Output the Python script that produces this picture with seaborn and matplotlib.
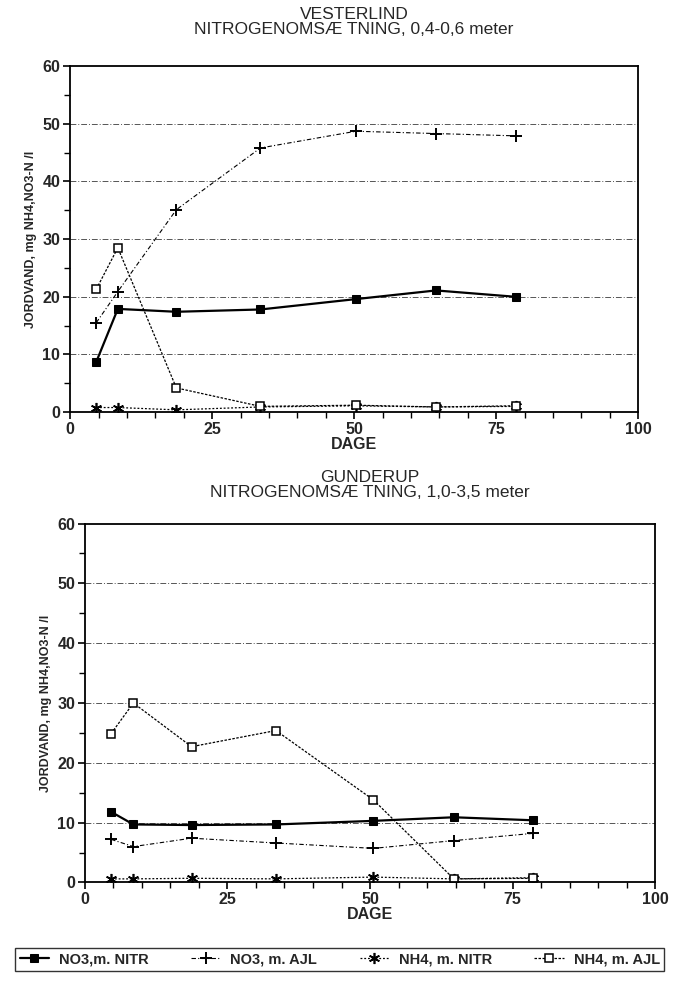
import matplotlib
matplotlib.use("Agg")
import matplotlib.pyplot as plt
from matplotlib.ticker import MultipleLocator
import seaborn as sns
import pandas as pd

sns.set_theme(style="white")
plt.rcParams["font.family"] = ["Liberation Sans", "DejaVu Sans"]

# Sampling days
days_vesterlind = [4.6, 8.4, 18.7, 33.5, 50.3, 64.4, 78.4]
days_gunderup = [4.6, 8.5, 18.7, 33.5, 50.6, 64.7, 78.5]

# VESTERLIND, 0,4-0,6 m (mg N/l)
vest_no3_nitr = [8.7, 17.9, 17.4, 17.8, 19.6, 21.1, 20.0]
vest_no3_ajl = [15.5, 20.9, 35.1, 45.8, 48.7, 48.3, 47.9]
vest_nh4_nitr = [0.8, 0.8, 0.4, 0.9, 1.1, 0.9, 1.0]
vest_nh4_ajl = [21.3, 28.5, 4.2, 1.0, 1.2, 0.9, 1.1]

# GUNDERUP, 1,0-3,5 m (mg N/l)
gund_no3_nitr = [11.8, 9.7, 9.6, 9.7, 10.3, 10.9, 10.4]
gund_no3_ajl = [7.2, 6.0, 7.4, 6.6, 5.7, 7.0, 8.2]
gund_nh4_nitr = [0.6, 0.6, 0.7, 0.6, 0.9, 0.6, 0.8]
gund_nh4_ajl = [24.9, 30.0, 22.7, 25.4, 13.8, 0.6, 0.7]

series_labels = ["NO3,m. NITR", "NO3, m. AJL", "NH4, m. NITR", "NH4, m. AJL"]
titles = ["VESTERLIND\nNITROGENOMSÆ TNING, 0,4-0,6 meter",
          "GUNDERUP\nNITROGENOMSÆ TNING, 1,0-3,5 meter"]

styles = [
    dict(marker="s", markersize=6, markerfacecolor="black", markeredgecolor="black",
         linestyle="-", linewidth=1.6),
    dict(marker="+", markersize=8, markeredgewidth=1.4, markeredgecolor="black",
         linestyle=(0, (4, 2, 1, 2)), linewidth=0.8),
    dict(marker=(6, 2, 0), markersize=8, markeredgewidth=1.2, markeredgecolor="black",
         linestyle=(0, (1.5, 1.5)), linewidth=0.9),
    dict(marker="s", markersize=6, markerfacecolor="white", markeredgecolor="black",
         markeredgewidth=1.1, linestyle=(0, (2, 1.2)), linewidth=0.9),
]

fig = plt.figure(figsize=(6.74, 9.86), dpi=100)
ax_top = fig.add_axes([0.104, 0.582, 0.843, 0.351])
ax_bot = fig.add_axes([0.126, 0.105, 0.846, 0.364])

panels = [
    (ax_top, days_vesterlind, [vest_no3_nitr, vest_no3_ajl, vest_nh4_nitr, vest_nh4_ajl], titles[0], 23),
    (ax_bot, days_gunderup, [gund_no3_nitr, gund_no3_ajl, gund_nh4_nitr, gund_nh4_ajl], titles[1], 19),
]

for ax, days, values, title, tpad in panels:
    for ys, lab, st in zip(values, series_labels, styles):
        df = pd.DataFrame({"DAGE": days, "val": ys})
        sns.lineplot(data=df, x="DAGE", y="val", ax=ax, color="black",
                     label=lab, legend=False, sort=False, **st)
    ax.set_xlim(0, 100)
    ax.set_ylim(0, 60)
    ax.xaxis.set_major_locator(MultipleLocator(25))
    ax.xaxis.set_minor_locator(MultipleLocator(5))
    ax.yaxis.set_major_locator(MultipleLocator(10))
    ax.yaxis.set_minor_locator(MultipleLocator(5))
    ax.tick_params(axis="both", which="major", direction="out", length=5, width=1.2,
                   color="black", labelsize=11.5, pad=2, bottom=True, left=True)
    ax.tick_params(axis="both", which="minor", direction="out", length=4, width=1.0,
                   color="black", bottom=True, left=True)
    for lbl in ax.get_xticklabels() + ax.get_yticklabels():
        lbl.set_fontweight("bold")
    for y in [10, 20, 30, 40, 50]:
        ax.axhline(y, color="#555555", linewidth=0.7, linestyle=(0, (6, 2, 1, 2)), zorder=0)
    for sp in ax.spines.values():
        sp.set_visible(True)
        sp.set_color("black")
        sp.set_linewidth(1.3)
    ax.set_xlabel("DAGE", fontsize=11.5, fontweight="bold", labelpad=0)
    ax.set_ylabel("JORDVAND, mg NH4,NO3-N /l", fontsize=9, fontweight="bold", labelpad=4)
    ax.set_title(title, fontsize=12.5, linespacing=1.0, pad=tpad, fontweight="medium")
    ax.grid(False)

handles = ax_top.get_lines()[:4]
leg = fig.legend(handles, series_labels, loc="center left", bbox_to_anchor=(0.012, 0.027),
                 ncol=4, frameon=True, fancybox=False, edgecolor="black",
                 prop={"weight": "bold", "size": 10.5}, handlelength=2.0,
                 handletextpad=0.7, columnspacing=2.9, borderpad=0.3)
leg.get_frame().set_linewidth(1.0)

fig.savefig("out.png", dpi=100, facecolor="white")
